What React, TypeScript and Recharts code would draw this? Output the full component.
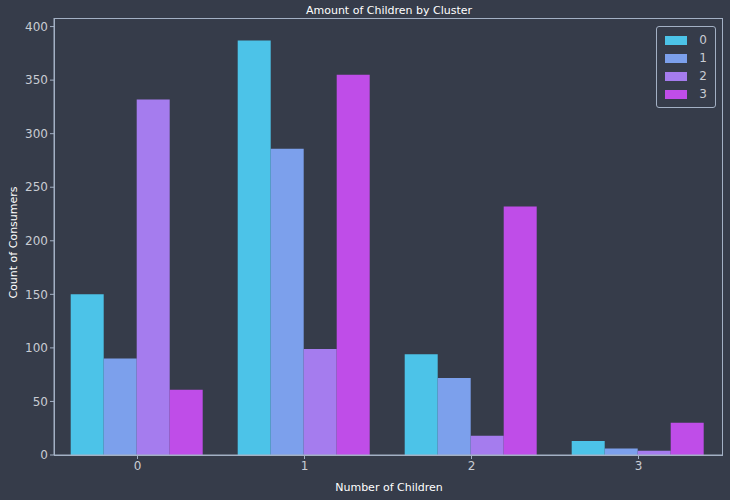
import { BarChart, Bar, XAxis, YAxis } from 'recharts'

const children = ['0', '1', '2', '3']
const cluster0 = [150, 387, 94, 13]
const cluster1 = [90, 286, 72, 6]
const cluster2 = [332, 99, 18, 4]
const cluster3 = [61, 355, 232, 30]
const yTicks = [0, 50, 100, 150, 200, 250, 300, 350, 400]

const clusters = ['0', '1', '2', '3']
const colors = ['#4cc3e8', '#7ca0ec', '#a57cee', '#bf4de8']

const data = children.map((c, i) => ({
  name: c,
  c0: cluster0[i],
  c1: cluster1[i],
  c2: cluster2[i],
  c3: cluster3[i],
}))

const frame = '#a3b0c4'
const tickStyle = { fontSize: 12, fill: '#c9ccd3', fontFamily: 'DejaVu Sans' }

function LegendBox() {
  return (
    <div style={{ position: 'absolute', right: 14, top: 26, border: `1px solid ${frame}`, borderRadius: 3, padding: '4px 8px', background: '#363c4a' }}>
      {clusters.map((c, i) => (
        <div key={c} style={{ display: 'flex', alignItems: 'center', height: 18, fontSize: 12, color: '#c9ccd3', fontFamily: 'DejaVu Sans' }}>
          <span style={{ display: 'inline-block', width: 22, height: 9, background: colors[i], marginRight: 12 }} />
          {c}
        </div>
      ))}
    </div>
  )
}

export default function App() {
  return (
    <div style={{ position: 'absolute', left: 0, top: 0, width: 730, height: 500, background: '#363c4a', fontFamily: 'DejaVu Sans' }}>
      <div style={{ position: 'absolute', top: 4, width: 730, left: 24, textAlign: 'center', fontSize: 11, color: '#ffffff' }}>
        Amount of Children by Cluster
      </div>
      <div style={{ position: 'absolute', left: 3, top: 236, width: 16, height: 1, fontSize: 11, color: '#ffffff' }}>
        <div style={{ transform: 'rotate(-90deg)', transformOrigin: 'center', whiteSpace: 'nowrap', position: 'absolute', left: -46, top: 0 }}>
          Count of Consumers
        </div>
      </div>
      <div style={{ position: 'absolute', top: 481, width: 730, left: 24, textAlign: 'center', fontSize: 11, color: '#ffffff' }}>
        Number of Children
      </div>
      <BarChart width={730} height={500} data={data} margin={{ top: 18, right: 8, bottom: 0, left: 0 }} barCategoryGap="10%" barGap={0}>
        <XAxis dataKey="name" height={45} tick={tickStyle} tickLine={{ stroke: frame }} axisLine={{ stroke: frame }} tickSize={4} />
        <YAxis width={54} domain={[0, 408]} ticks={yTicks} tick={tickStyle} tickLine={{ stroke: frame }} axisLine={{ stroke: frame }} tickSize={4} />
        <Bar dataKey="c0" fill={colors[0]} isAnimationActive={false} />
        <Bar dataKey="c1" fill={colors[1]} isAnimationActive={false} />
        <Bar dataKey="c2" fill={colors[2]} isAnimationActive={false} />
        <Bar dataKey="c3" fill={colors[3]} isAnimationActive={false} />
      </BarChart>
      <div style={{ position: 'absolute', left: 54, top: 18, width: 667, height: 436, border: `1px solid ${frame}`, pointerEvents: 'none' }} />
      <LegendBox />
    </div>
  )
}
